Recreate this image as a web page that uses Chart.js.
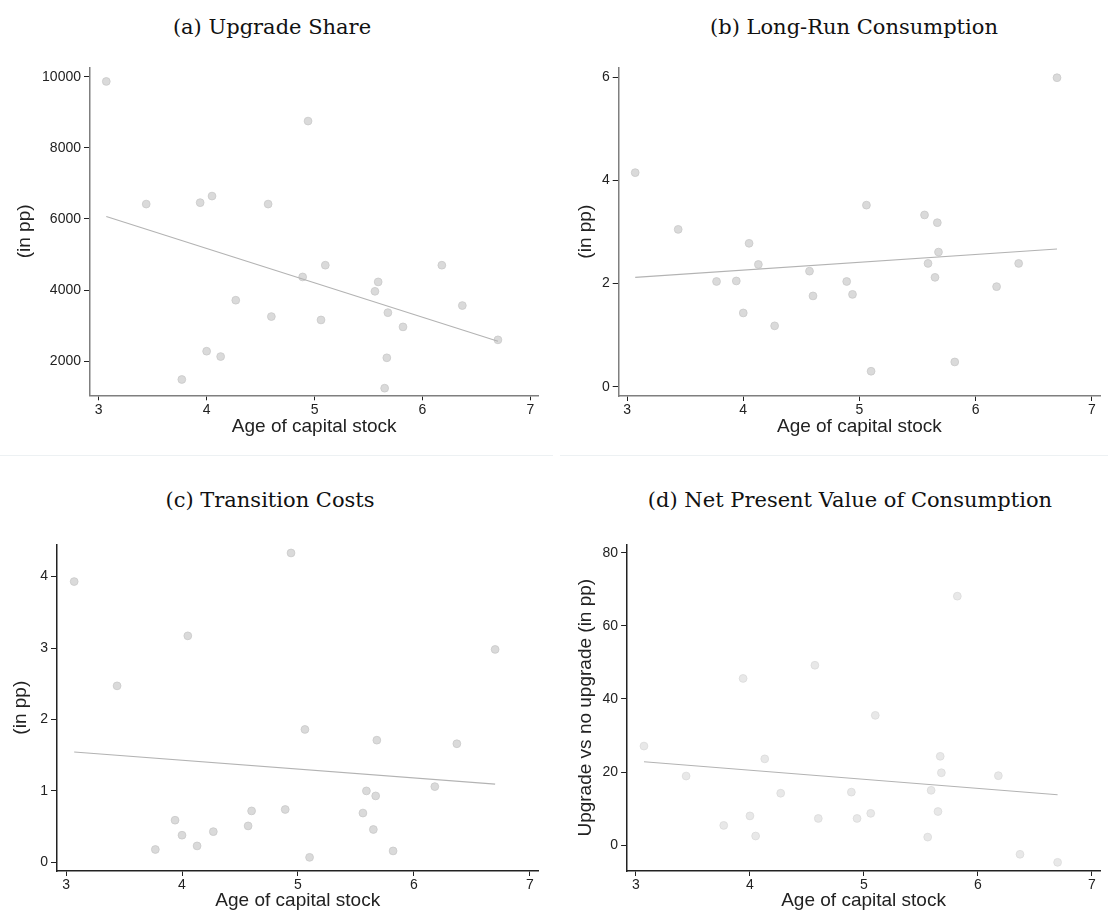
<!DOCTYPE html>
<html lang="en">
<head>
<meta charset="UTF-8">
<title>Age of capital stock</title>
<script src="https://cdn.jsdelivr.net/npm/chart.js"></script>
<style>
    body {
        margin: 0;
        background: #ffffff;
        width: 1108px;
        height: 914px;
        position: relative;
        overflow: hidden;
    }
    .panel {
        position: absolute;
    }
    .titulo {
        position: absolute;
        width: 520px;
        text-align: center;
        font-family: "DejaVu Serif", serif;
        font-size: 21px;
        line-height: 21px;
        color: #111;
        white-space: nowrap;
    }
    .sep {
        position: absolute;
        top: 455px;
        height: 1px;
        background: #edf1f3;
    }
</style>
</head>
<body>
    <div class="titulo" style="left:12px; top:17px;">(a) Upgrade Share</div>
    <div class="titulo" style="left:594px; top:17px;">(b) Long-Run Consumption</div>
    <div class="titulo" style="left:10px; top:490px;">(c) Transition Costs</div>
    <div class="titulo" style="left:590px; top:490px;">(d) Net Present Value of Consumption</div>

    <div class="sep" style="left:0; width:553px;"></div>
    <div class="sep" style="left:560px; width:548px;"></div>

    <canvas id="chartA" class="panel" width="554" height="400" style="left:0; top:56px;"></canvas>
    <canvas id="chartB" class="panel" width="554" height="400" style="left:554px; top:56px;"></canvas>
    <canvas id="chartC" class="panel" width="554" height="381" style="left:0; top:533px;"></canvas>
    <canvas id="chartD" class="panel" width="554" height="381" style="left:554px; top:533px;"></canvas>

<script>
// Edad del stock de capital (mismo eje x en los cuatro paneles)
const ageCapital = [3.07, 3.44, 3.77, 3.94, 4.00, 4.05, 4.13, 4.27, 4.57, 4.60, 4.89, 4.94,
                    5.06, 5.10, 5.56, 5.59, 5.65, 5.67, 5.68, 5.82, 6.18, 6.37, 6.70];

// (a) Upgrade Share
const upgradeShare = [9870, 6420, 1485, 6460, 2280, 6645, 2130, 3715, 6420, 3255, 4370, 8755,
                      3160, 4700, 3965, 4230, 1240, 2095, 3365, 2965, 4700, 3565, 2600];
// (b) Long-Run Consumption
const longRunCons = [4.15, 3.05, 2.04, 2.05, 1.43, 2.78, 2.37, 1.18, 2.24, 1.76, 2.04, 1.79,
                     3.52, 0.30, 3.33, 2.39, 2.12, 3.18, 2.61, 0.48, 1.94, 2.39, 5.99];
// (c) Transition Costs
const transCosts = [3.93, 2.47, 0.18, 0.59, 0.38, 3.17, 0.23, 0.43, 0.51, 0.72, 0.74, 4.33,
                    1.86, 0.07, 0.69, 1.00, 0.46, 0.93, 1.71, 0.16, 1.06, 1.66, 2.98];
// (d) Net Present Value of Consumption
const npvCons = [27.1, 18.9, 5.4, 45.6, 8.0, 2.5, 23.6, 14.2, 49.2, 7.3, 14.5, 7.3,
                 8.7, 35.5, 2.2, 15.0, 9.2, 24.3, 19.8, 68.1, 19.0, -2.5, -4.7];

// Recta ajustada (extremos)
const fitX = [3.07, 6.70];
const fitA = [6070, 2560];
const fitB = [2.12, 2.67];
const fitC = [1.545, 1.095];
const fitD = [22.8, 13.8];

// Etiquetas de los ejes
const xTicks = [3, 4, 5, 6, 7];
const yTicksA = [2000, 4000, 6000, 8000, 10000];
const yTicksB = [0, 2, 4, 6];
const yTicksC = [0, 1, 2, 3, 4];
const yTicksD = [0, 20, 40, 60, 80];

Chart.defaults.font.family = "'Liberation Sans', Arial, sans-serif";
Chart.defaults.color = '#222';

function toPoints(xs, ys) {
    return xs.map((x, i) => ({ x: x, y: ys[i] }));
}

function crearPanel(id, ys, fitYs, yTicks, opt) {
    const ctx = document.getElementById(id).getContext('2d');
    return new Chart(ctx, {
        type: 'scatter',
        data: {
            datasets: [
                {
                    data: toPoints(fitX, fitYs),
                    showLine: true,
                    borderColor: '#b3b3b3',
                    borderWidth: 1.1,
                    pointRadius: 0,
                    order: 0
                },
                {
                    data: toPoints(ageCapital, ys),
                    pointRadius: 3.9,
                    pointBackgroundColor: opt.dot,
                    pointBorderColor: opt.dotBorder,
                    pointBorderWidth: 0.8,
                    order: 1
                }
            ]
        },
        options: {
            responsive: false,
            animation: false,
            layout: { padding: { left: 0, top: opt.top, right: opt.right, bottom: 0 } },
            plugins: { legend: { display: false }, tooltip: { enabled: false } },
            scales: {
                x: {
                    type: 'linear',
                    min: opt.xMin,
                    max: opt.xMax,
                    afterBuildTicks: s => { s.ticks = xTicks.map(v => ({ value: v })); },
                    afterFit: s => { s.height = opt.xH; },
                    border: { color: opt.axis, width: 1.5 },
                    grid: { drawOnChartArea: false, color: '#222', tickLength: 5 },
                    ticks: { padding: 1, font: { size: 14 }, callback: v => String(v) },
                    title: {
                        display: true,
                        text: 'Age of capital stock',
                        font: { size: 19 },
                        padding: { top: 0, bottom: opt.xTitlePad }
                    }
                },
                y: {
                    type: 'linear',
                    min: opt.yMin,
                    max: opt.yMax,
                    afterBuildTicks: s => { s.ticks = yTicks.map(v => ({ value: v })); },
                    afterFit: s => { s.width = opt.yW; },
                    border: { color: opt.axis, width: 1.5 },
                    grid: { drawOnChartArea: false, color: '#222', tickLength: 6 },
                    ticks: { padding: 3, font: { size: 14 }, callback: v => String(v) },
                    title: {
                        display: true,
                        text: opt.yTitle,
                        font: { size: 19 },
                        padding: { top: opt.yTitlePad, bottom: 0 }
                    }
                }
            }
        }
    });
}

crearPanel('chartA', upgradeShare, fitA, yTicksA, {
    xMin: 2.919, xMax: 7.075, yMin: 1040, yMax: 10265,
    top: 10, right: 15.6, xH: 60.7, yW: 90, xTitlePad: 18, yTitlePad: 13,
    axis: '#7f7f7f', dot: '#dadada', dotBorder: '#c9c9c9', yTitle: '(in pp)'
});

crearPanel('chartB', longRunCons, fitB, yTicksB, {
    xMin: 2.928, xMax: 7.07, yMin: -0.18, yMax: 6.19,
    top: 10, right: 8, xH: 60, yW: 64.7, xTitlePad: 18, yTitlePad: 20,
    axis: '#7f7f7f', dot: '#dadada', dotBorder: '#c9c9c9', yTitle: '(in pp)'
});

crearPanel('chartC', transCosts, fitC, yTicksC, {
    xMin: 2.922, xMax: 7.074, yMin: -0.121, yMax: 4.45,
    top: 9.7, right: 15.5, xH: 43, yW: 57, xTitlePad: 2, yTitlePad: 9,
    axis: '#222222', dot: '#dadada', dotBorder: '#c9c9c9', yTitle: '(in pp)'
});

crearPanel('chartD', npvCons, fitD, yTicksD, {
    xMin: 2.922, xMax: 7.072, yMin: -7.07, yMax: 82.26,
    top: 9.7, right: 8, xH: 43, yW: 73.1, xTitlePad: 2, yTitlePad: 20,
    axis: '#222222', dot: '#e8e8e8', dotBorder: '#dadada', yTitle: 'Upgrade vs no upgrade (in pp)'
});
</script>
</body>
</html>
